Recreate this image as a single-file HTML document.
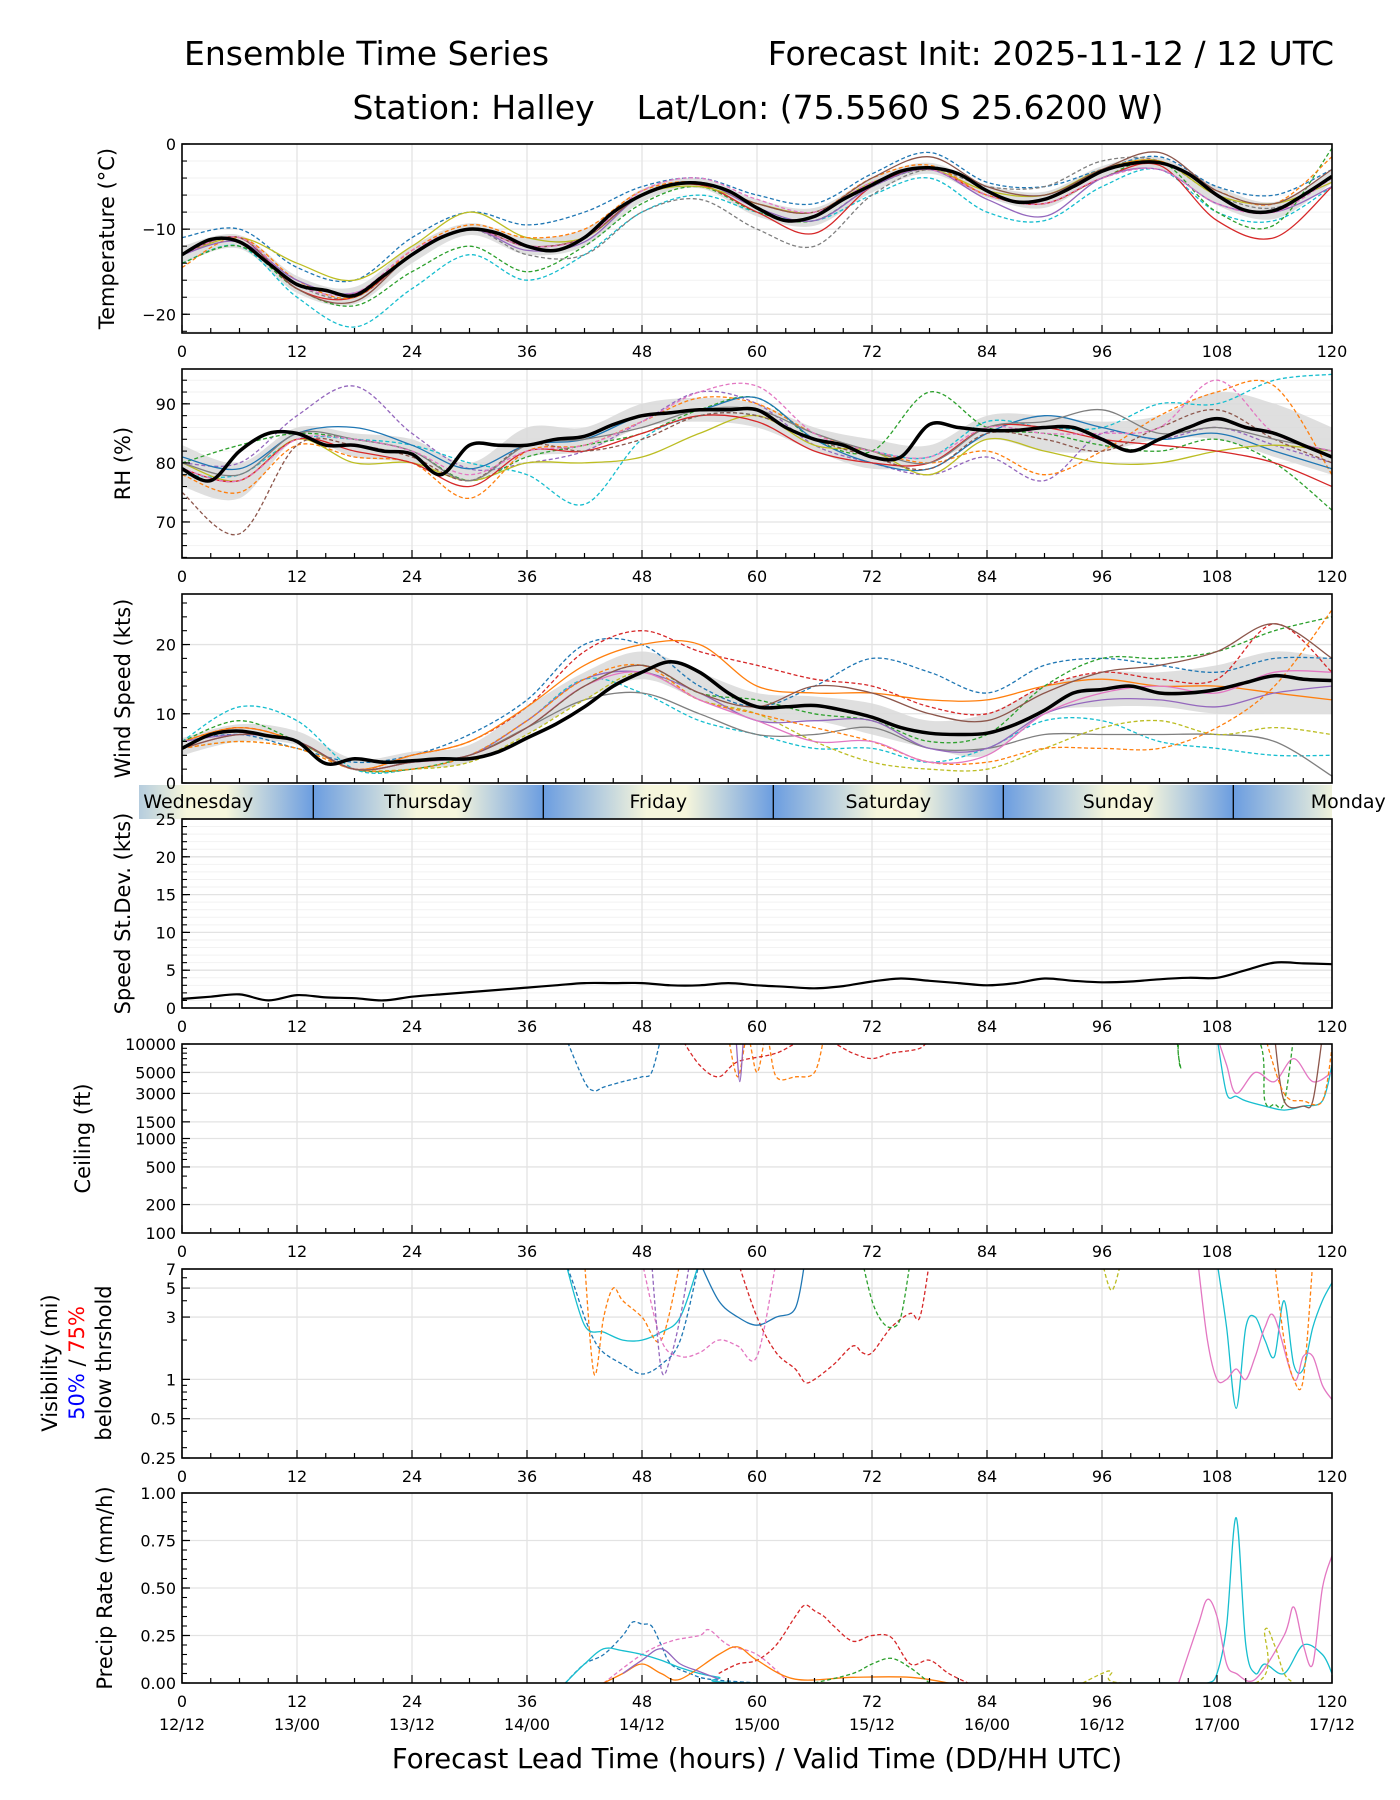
<!DOCTYPE html>
<html><head><meta charset="utf-8"><style>
html,body{margin:0;padding:0;background:#fff;}
svg{display:block;font-family:"DejaVu Sans","Liberation Sans",sans-serif;}
</style></head><body>
<svg id="chart" width="1400" height="1800" viewBox="0 0 1400 1800" xmlns="http://www.w3.org/2000/svg">
<text x="184" y="65" font-size="33">Ensemble Time Series</text>
<text x="1334" y="65" font-size="33" text-anchor="end">Forecast Init: 2025-11-12 / 12 UTC</text>
<text x="758" y="119" font-size="33" text-anchor="middle">Station: Halley&#160;&#160;&#160;&#160;Lat/Lon: (75.5560 S 25.6200 W)</text>
</svg>
<script>
// ---------- data ----------
const hours3 = [0,3,6,9,12,15,18,21,24,27,30,33,36,39,42,45,48,51,54,57,60,63,66,69,72,75,78,81,84,87,90,93,96,99,102,105,108,111,114,117,120];
const hours6 = [0,6,12,18,24,30,36,42,48,54,60,66,72,78,84,90,96,102,108,114,120];
const xTicks = [0,12,24,36,48,60,72,84,96,108,120];
const dateLabels = ["12/12","13/00","13/12","14/00","14/12","15/00","15/12","16/00","16/12","17/00","17/12"];
const dayNames = ["Wednesday","Thursday","Friday","Saturday","Sunday","Monday"];
const dayStarts = [-10.3,13.7,37.7,61.7,85.7,109.7];

const tempMean = [-13,-11.2,-11.5,-14,-16.5,-17.2,-17.8,-15.5,-13,-11,-10,-10.5,-12,-12.5,-11,-8,-6,-4.8,-4.6,-5.5,-7.5,-9,-8.5,-6.5,-4.8,-3.2,-2.8,-3.5,-5.5,-6.8,-6.5,-5,-3.2,-2.3,-2.2,-3.5,-6,-7.8,-7.8,-6,-3.8];
const tempHi = [-12,-10.7,-15.5,-16.8,-12,-9.3,-11,-10,-5.3,-4,-6.5,-7.5,-4,-2.2,-4.8,-5.6,-2.6,-1.6,-5,-6.8,-3];
const tempLo = [-14,-12.3,-17.5,-18.8,-14,-10.7,-13,-12,-6.8,-5.2,-8.5,-9.6,-5.7,-3.5,-6.3,-7.5,-4,-2.9,-7.2,-8.8,-4.6];
const tempM1 = [-11,-10,-14.5,-16,-11,-8,-9.5,-8,-5,-4,-6,-7,-3.5,-1,-4.5,-5,-3,-1.5,-5,-6,-3];
const tempM2 = [-14,-12,-18,-21.5,-17,-13,-16,-13,-8,-6,-8,-9,-6,-4,-8,-9,-5,-3,-8,-9,-5];
const tempM3 = [-14,-12,-17,-19,-15,-12,-15,-12,-7,-5,-8,-9,-5,-3,-6,-7,-4,-2,-8,-9.5,-0.5];
const tempM4 = [-13,-11,-16.5,-18,-13,-10,-13,-13,-8,-6.5,-10,-12,-6,-3,-5,-5,-2,-2,-6,-7.5,-4];
const tempM5 = [-13,-11,-17,-18,-13,-10,-12,-11,-6,-4.8,-8,-10.5,-5,-3,-6,-7,-4,-2.5,-9,-11,-5];
const tempM6 = [-13,-11,-14,-16,-12,-8,-11,-11,-6,-5,-7,-8,-4.5,-3,-5.5,-6,-3,-2,-6,-7,-4.5];
const tempM7 = [-14.5,-11,-16,-18,-12.5,-9.5,-11,-10,-5.5,-4.5,-7,-8,-4,-2.5,-6,-6.5,-3,-2,-5.5,-7,-1.5];
const tempM8 = [-13,-11.5,-16,-17.5,-13,-10,-12.5,-11.5,-6,-4.5,-7.5,-9,-5,-3,-6.5,-8.5,-4,-3,-7,-8,-5];
const tempM9 = [-13,-11,-17,-18.5,-13,-10,-12,-11,-6,-4.5,-7,-8,-4,-1.5,-5,-6,-3,-1,-5.5,-7,-3];
const tempM10 = [-13,-11,-16.5,-17.5,-12.5,-10,-12,-11,-5.5,-4,-6.5,-8,-4.5,-3,-6,-7,-4,-3,-7,-8,-4];

const rhMean = [79,77,82,85,85,83,83,82,81.5,78,83,83,83,84,84.5,86.5,88,88.5,89,89,89,86,84,83,81,81,86.5,86,85.5,85.5,86,86,84,82,84,86,87.5,86,85,83,81];
const rhHi = [83,80,86,85,84,80,86,86,90,91,90,86,84,83,88,88,87,88,92,90,86];
const rhLo = [76,74,84,81,80,77,81,82,86,87,86,82,79,80,84,82,82,84,84,81,78];
const rhM1 = [80,80,88,93,85,79,80,82,87,92,90,83,80,78,81,77,85,84,86,83,80];
const rhM2 = [78,78,84,84,83,80,78,73,84,88,88,84,82,81,87,86,86,90,90,94,95];
const rhM3 = [80,83,85,84,82,77,81,83,85,89,91,84,82,92,86,85,83,82,84,80,72];
const rhM4 = [78,75,83,81,80,74,82,83,87,91,90,85,82,80,82,78,82,88,92,93,78];
const rhM5 = [81,79,85,86,83,79,83,84,88,89,91,84,80,79,85,88,86,84,85,82,79];
const rhM6 = [80,77,84,80,80,77,80,80,81,85,88,83,82,78,84,82,80,80,82,83,82];
const rhM7 = [79,77,84,82,80,76,82,82,85,88,87,82,80,80,86,86,84,83,82,80,76];
const rhM8 = [75,68,83,83,81,77,83,82,84,88,88,84,81,79,85,84,82,86,89,84,80];
const rhM9 = [80,78,85,84,82,77,83,84,86,89,89,85,82,80,86,87,89,85,86,84,82];
const rhM10 = [79,77,84,84,82,78,82,83,87,92,93,85,82,81,86,85,85,86,94,85,82];

const windMean = [5,7,7.5,6.8,6,2.8,3.5,3,3.2,3.5,3.5,4.5,6.5,8.5,11,14,16,17.5,16,13,11,11,11.2,10.5,9.5,8,7.2,7,7.2,8.5,10.5,13,13.5,14,13,13,13.5,14.5,15.5,15,14.8];
const windHi = [6.5,8.5,7.5,3.5,4.5,5.5,11,16,19,16,13,12.5,11.5,9,10,14,16,16,17,19,18];
const windLo = [4,6,5.5,1.8,2,3,7,12,15,12,9,9,7,5,4,10,11,11,10,10,10];
const windM1 = [6,7,5,3,4,7,12,20,20,14,11,14,18,16,13,17,18,17,16,18,18];
const windM2 = [6,11,9,2,2,4,9,15,13,9,7,5,5,3,5,9,9,6,5,4,4];
const windM3 = [6,8,6,2,4,6,11,19,22,19,17,15,14,11,10,14,16,15,15,23,16];
const windM4 = [6,8,6,2,4,6,11,17,20,20,14,13,13,12,12,14,15,14,14,13,12];
const windM5 = [5,7,6,2,3,4,8,12,13,10,7,7,8,5,5,7,7,7,7,6,1];
const windM6 = [5,6,5,2,2,3,7,12,16,12,10,6,3,2,2,5,8,9,7,8,7];
const windM7 = [6,9,6,2,2,4,8,14,17,13,12,10,9,6,7,14,18,18,19,22,24];
const windM8 = [6,7,6,2,3,4,9,15,16,13,9,9,9,5,5,10,12,12,11,13,14];
const windM9 = [5,6,5,2,2,4,9,15,17,12,10,8,6,3,3,5,5,5,8,14,25];
const windM10 = [5,7,6,2,3,4,8,14,16,12,9,6,6,3,4,10,13,14,13,16,16];
const windM11 = [5,7,6,2,3,4,8,14,17,13,11,14,13,10,9,13,16,17,19,23,18];

const stdVals = [1.2,1.5,1.8,1.0,1.7,1.4,1.3,1.0,1.5,1.8,2.1,2.4,2.7,3.0,3.3,3.3,3.3,3.0,3.0,3.3,3.0,2.8,2.6,2.9,3.5,3.9,3.6,3.3,3.0,3.3,3.9,3.6,3.4,3.5,3.8,4.0,4.0,5.0,6.0,5.9,5.8];

const ceilBlueH = [40,42,43,44,46,48,49,50];
const ceilBlueV = [12000,4000,3200,3500,4000,4500,5000,12000];
const ceilOrangeH = [57,58,59,60,61,62,64,66,67];
const ceilOrangeV = [12000,4500,12000,5000,12000,4500,4500,5000,12000];
const ceilRedH = [52,54,56,58,62,66,70,72,74,77,78];
const ceilRedV = [12000,6000,4500,6500,8000,12000,8000,7000,8000,9000,12000];
const ceilPurpleH = [57.8,58.2,58.6];
const ceilPurpleV = [12000,4000,12000];
const ceilCyanH = [108,109,110,111,113,115,117,119,120];
const ceilCyanV = [12000,3000,2800,2500,2200,2000,2200,2500,6000];
const ceilPinkH = [108,109,110,112,114,116,118,120];
const ceilPinkV = [12000,6000,3000,5000,4000,7000,4000,5000];
const ceilGreenH = [103.8,104.2,104.6,112,113,114,115,116];
const ceilGreenV = [12000,5500,12000,12000,2500,2300,2400,12000];
const ceilBrownH = [114,115,117,118,119];
const ceilBrownV = [12000,2500,2200,2500,12000];
const ceilOrange2H = [113,115,117,119,120];
const ceilOrange2V = [12000,3000,2500,2500,9000];

const visBlueDH = [40,41,42,43,44,46,48,50,52,54];
const visBlueDV = [8,5,3,2,1.6,1.3,1.1,1.3,2.0,8];
const visCyanH = [40,42,44,46,48,50,52,54];
const visCyanV = [8,2.6,2.3,2.0,2.0,2.3,3,8];
const visCyan2H = [108,109,110,111,112,113,114,115,116,117,118,119,120];
const visCyan2V = [8,2.5,0.6,2.5,3,2,1.5,4,1.3,1.2,2.5,4,5.5];
const visRedH = [58,60,62,64,65,66,68,70,71,72,74,76,77,78];
const visRedV = [8,3,1.6,1.2,0.95,1.0,1.3,1.8,1.6,1.6,2.5,3.2,3.0,8];
const visPinkH = [106,107,108,109,110,111,112,113,114,116,117,118,119,120];
const visPinkV = [8,2,1,1,1.2,1,1.5,2.5,3,1.0,1.5,1.5,0.9,0.7];
const visOrangeH = [42,43,44,45,46,48,50,52];
const visOrangeV = [8,1.1,3,5,4,3,2,8];
const visOrange2H = [114,115,116,117,118];
const visOrange2V = [8,2,1,1,8];
const visGreenH = [71,72,73,74,75,76];
const visGreenV = [8,4,2.8,2.5,3,8];
const visBlueH = [54,56,58,60,62,64,65];
const visBlueV = [8,4,3,2.6,3,3.5,8];
const visPinkDH = [48,50,52,54,56,58,60,62];
const visPinkDV = [8,2,1.5,1.6,2,1.8,1.5,8];
const visPurpleH = [49,50,51,52,53];
const visPurpleV = [8,1.2,1.5,3,8];
const visOliveH = [96,97,98];
const visOliveV = [8,4.8,8];

const prBlueH = [40,42,44,46,47,48,49,50,51,53,55,60];
const prBlueV = [0,0.1,0.15,0.25,0.32,0.31,0.3,0.2,0.1,0.05,0.02,0];
const prRedH = [56,58,60,62,64,65,66,67,68,70,72,74,76,78,80,82];
const prRedV = [0.05,0.1,0.12,0.2,0.35,0.41,0.38,0.35,0.3,0.22,0.25,0.24,0.1,0.12,0.05,0];
const prPinkDH = [44,48,51,54,55,57,60,63];
const prPinkDV = [0,0.15,0.22,0.25,0.28,0.2,0.15,0.02];
const prCyanH = [40,42,44,46,48,50,52,54,56,60,105,107,108,109,110,111,112,113,115,117,119,120];
const prCyanV = [0,0.1,0.18,0.17,0.15,0.12,0.08,0.05,0.03,0,0,0,0.05,0.3,0.87,0.2,0.05,0.1,0.05,0.2,0.15,0.05];
const prPinkH = [104,106,107,108,109,110,112,115,116,117,118,119,120];
const prPinkV = [0,0.3,0.44,0.35,0.1,0.05,0.02,0.25,0.4,0.2,0.1,0.5,0.67];
const prOrangeH = [44,46,48,50,52,56,58,60,64,70,76,80];
const prOrangeV = [0,0.05,0.1,0.05,0.02,0.15,0.19,0.12,0.02,0.03,0.03,0];
const prGreenH = [66,70,72,74,76,78];
const prGreenV = [0,0.05,0.1,0.13,0.08,0];
const prPurpleH = [46,48,50,52,54,56];
const prPurpleV = [0.05,0.12,0.18,0.1,0.06,0.02];
const prOliveH = [94,96,97,98,112,113,114,115,116];
const prOliveV = [0,0.05,0.06,0,0,0.28,0.2,0.05,0];

// ---------- drawing ----------
const NS = "http://www.w3.org/2000/svg";
const svg = document.getElementById("chart");
const X0 = 182, X1 = 1332;
const C = {blue:"#1f77b4",orange:"#ff7f0e",green:"#2ca02c",red:"#d62728",purple:"#9467bd",brown:"#8c564b",pink:"#e377c2",gray:"#7f7f7f",olive:"#bcbd22",cyan:"#17becf"};
const TF = 16;
const LF = 21;
function xs(h){ return X0 + (h/120)*(X1-X0); }
function mk(tag, attrs, parent){ const e=document.createElementNS(NS,tag); for(const k in attrs) e.setAttribute(k,attrs[k]); (parent||svg).appendChild(e); return e; }
function smoothPath(pts){
  if(pts.length<2) return "";
  let d = "M"+pts[0][0].toFixed(1)+","+pts[0][1].toFixed(1);
  for(let i=0;i<pts.length-1;i++){
    const p0=pts[i-1]||pts[i], p1=pts[i], p2=pts[i+1], p3=pts[i+2]||p2;
    const c1=[p1[0]+(p2[0]-p0[0])/6, p1[1]+(p2[1]-p0[1])/6];
    const c2=[p2[0]-(p3[0]-p1[0])/6, p2[1]-(p3[1]-p1[1])/6];
    d += "C"+c1[0].toFixed(1)+","+c1[1].toFixed(1)+" "+c2[0].toFixed(1)+","+c2[1].toFixed(1)+" "+p2[0].toFixed(1)+","+p2[1].toFixed(1);
  }
  return d;
}
let clipId=0;
function panel(p){
  const g = mk("g",{});
  
  
  const ys = p.log ? (v)=> p.top + (Math.log10(p.ymax)-Math.log10(v))/(Math.log10(p.ymax)-Math.log10(p.ymin))*(p.bot-p.top)
                   : (v)=> p.top + (p.ymax-v)/(p.ymax-p.ymin)*(p.bot-p.top);
  (p.minorGrid||[]).forEach(v=>{ const y=ys(v); mk("line",{x1:X0,x2:X1,y1:y,y2:y,stroke:"#f2f2f2","stroke-width":1},g); });
  xTicks.forEach(h=>{ mk("line",{x1:xs(h),x2:xs(h),y1:p.top,y2:p.bot,stroke:"#e3e3e3","stroke-width":1.3},g); });
  p.yTicks.forEach(v=>{ const y=ys(v); mk("line",{x1:X0,x2:X1,y1:y,y2:y,stroke:"#e3e3e3","stroke-width":1.3},g); });
  const id="clip"+(clipId++);
  const cp = mk("clipPath",{id:id},g); mk("rect",{x:X0,y:p.top,width:X1-X0,height:p.bot-p.top},cp);
  const data = mk("g",{"clip-path":"url(#"+id+")"},g);
  if(p.band){
    const up = hours6.map((h,i)=>[xs(h),ys(p.band[1][i])]);
    const dn = hours6.map((h,i)=>[xs(h),ys(p.band[0][i])]).reverse();
    const band = mk("path",{d:smoothPath(up)+" L"+smoothPath(dn).slice(1)+" Z",fill:"#d9d9d9",opacity:0.85},data);
    
    
  }
  (p.members||[]).forEach((m)=>{
    const hh = m.h || hours6;
    const pts = hh.map((h,i)=>[xs(h),ys(m.v[i])]);
    const el = mk("path",{d:smoothPath(pts),fill:"none",stroke:m.c,"stroke-width":1.3,"stroke-dasharray":m.d?"4,2.5":"none"},data);
    
    
  });
  if(p.mean){
    const pts = hours3.map((h,i)=>[xs(h),ys(p.mean[i])]);
    const el = mk("path",{d:smoothPath(pts),fill:"none",stroke:"#000","stroke-width":p.meanW||3.5,"stroke-linejoin":"round"},data);
    
    
  }
  for(let h=0;h<=120;h+=3){
    const major = h%12===0; const L = major?8:5;
    mk("line",{x1:xs(h),x2:xs(h),y1:p.bot,y2:p.bot-L,stroke:"#000","stroke-width":1.2},g);
  }
  (p.minorTicks||[]).forEach(v=>{ const y=ys(v); mk("line",{x1:X0,x2:X0+5,y1:y,y2:y,stroke:"#000","stroke-width":1.1},g); });
  p.yTicks.forEach((v,i)=>{
    const y=ys(v);
    mk("line",{x1:X0,x2:X0+8,y1:y,y2:y,stroke:"#000","stroke-width":1.2},g);
    const t=mk("text",{x:X0-6,y:y+6,"font-size":TF,"text-anchor":"end"},g);
    t.textContent = p.yLabels[i];
    
    
  });
  if(!p.noX){
    xTicks.forEach(h=>{
      const t=mk("text",{x:xs(h),y:p.bot+24,"font-size":TF,"text-anchor":"middle"},g);
      t.textContent = String(h);
      
      
    });
  }
  mk("rect",{x:X0,y:p.top,width:X1-X0,height:p.bot-p.top,fill:"none",stroke:"#000","stroke-width":1.6},g);
  if(p.label){
    const cy=(p.top+p.bot)/2;
    const t=mk("text",{x:0,y:0,"font-size":LF,"text-anchor":"middle",transform:"translate("+p.labelX+","+cy+") rotate(-90)"},g);
    t.textContent=p.label;
    
    
  }
  return {g,ys};
}
function range(a,b,s){ const r=[]; for(let v=a;v<=b+1e-9;v+=s) r.push(+v.toFixed(3)); return r; }

// day bar
(function(){
  const top=785, bot=819, L=139, R=1332;
  const defs=mk("defs",{});
  const g=mk("g",{});
  
  
  const cp=mk("clipPath",{id:"dayclip"},defs); mk("rect",{x:L,y:top,width:R-L,height:bot-top},cp);
  const inner=mk("g",{"clip-path":"url(#dayclip)"},g);
  dayStarts.forEach((s,i)=>{
    const x0=xs(s), x1=xs(s+24);
    const gr=mk("linearGradient",{id:"dg"+i,x1:0,x2:1,y1:0,y2:0},defs);
    mk("stop",{offset:"0","stop-color":"#6b9de0"},gr);
    mk("stop",{offset:"0.45","stop-color":"#f6f6dc"},gr);
    mk("stop",{offset:"0.62","stop-color":"#f6f6dc"},gr);
    mk("stop",{offset:"1","stop-color":"#6b9de0"},gr);
    mk("rect",{x:x0,y:top,width:x1-x0,height:bot-top,fill:"url(#dg"+i+")"},inner);
    if(i>0) mk("line",{x1:x0,x2:x0,y1:top,y2:bot,stroke:"#000","stroke-width":1.3},inner);
  });
  dayStarts.forEach((s,i)=>{
    const t=mk("text",{x:xs(s+12),y:top+23,"font-size":19,"text-anchor":"middle"},g);
    t.textContent=dayNames[i];
    
    
  });
})();

panel({name:"temperature-panel",top:144,bot:333,ymin:-22.2,ymax:0,yTicks:[0,-10,-20],yLabels:["0","\u221210","\u221220"],
  minorTicks:range(-22,0,2),minorGrid:range(-22,0,2),label:"Temperature (\u00B0C)",labelX:114,
  band:[tempLo,tempHi],mean:tempMean,
  members:[{v:tempM1,c:C.blue,d:1},{v:tempM2,c:C.cyan,d:1},{v:tempM3,c:C.green,d:1},{v:tempM4,c:C.gray,d:1},{v:tempM5,c:C.red},{v:tempM6,c:C.olive},{v:tempM7,c:C.orange,d:1},{v:tempM8,c:C.purple},{v:tempM9,c:C.brown},{v:tempM10,c:C.pink,d:1}]});

panel({name:"rh-panel",top:369,bot:558,ymin:63.9,ymax:95.9,yTicks:[70,80,90],yLabels:["70","80","90"],
  minorTicks:range(64,94,2),minorGrid:range(64,94,2),label:"RH (%)",labelX:130,
  band:[rhLo,rhHi],mean:rhMean,
  members:[{v:rhM1,c:C.purple,d:1},{v:rhM2,c:C.cyan,d:1},{v:rhM3,c:C.green,d:1},{v:rhM4,c:C.orange,d:1},{v:rhM5,c:C.blue},{v:rhM6,c:C.olive},{v:rhM7,c:C.red},{v:rhM8,c:C.brown,d:1},{v:rhM9,c:C.gray},{v:rhM10,c:C.pink,d:1}]});

panel({name:"wind-speed-panel",top:594,bot:783,ymin:0,ymax:27.3,yTicks:[0,10,20],yLabels:["0","10","20"],noX:true,
  minorTicks:range(0,26,2),label:"Wind Speed (kts)",labelX:130,
  band:[windLo,windHi],mean:windMean,
  members:[{v:windM1,c:C.blue,d:1},{v:windM2,c:C.cyan,d:1},{v:windM3,c:C.red,d:1},{v:windM4,c:C.orange},{v:windM5,c:C.gray},{v:windM6,c:C.olive,d:1},{v:windM7,c:C.green,d:1},{v:windM8,c:C.purple},{v:windM9,c:C.orange,d:1},{v:windM10,c:C.pink},{v:windM11,c:C.brown}]});

panel({name:"speed-stdev-panel",top:819,bot:1008,ymin:0,ymax:25,yTicks:[0,5,10,15,20,25],yLabels:["0","5","10","15","20","25"],
  minorTicks:range(0,25,1),minorGrid:range(0,25,1),label:"Speed St.Dev. (kts)",labelX:130,mean:stdVals,meanW:2.2});

panel({name:"ceiling-panel",top:1044,bot:1233,ymin:100,ymax:10000,log:true,yTicks:[100,200,500,1000,1500,3000,5000,10000],
  yLabels:["100","200","500","1000","1500","3000","5000","10000"],
  minorTicks:[300,400,600,700,800,900,2000,4000,6000,7000,8000,9000],label:"Ceiling (ft)",labelX:90,
  members:[{h:ceilBlueH,v:ceilBlueV,c:C.blue,d:1},{h:ceilOrangeH,v:ceilOrangeV,c:C.orange,d:1},{h:ceilRedH,v:ceilRedV,c:C.red,d:1},{h:ceilPurpleH,v:ceilPurpleV,c:C.purple},{h:ceilCyanH,v:ceilCyanV,c:C.cyan},{h:ceilPinkH,v:ceilPinkV,c:C.pink},{h:ceilGreenH,v:ceilGreenV,c:C.green,d:1},{h:ceilBrownH,v:ceilBrownV,c:C.brown},{h:ceilOrange2H,v:ceilOrange2V,c:C.orange,d:1}]});

panel({name:"visibility-panel",top:1269,bot:1458,ymin:0.25,ymax:7,log:true,yTicks:[0.25,0.5,1,3,5,7],yLabels:["0.25","0.5","1","3","5","7"],
  minorTicks:[0.3,0.4,0.6,0.7,0.8,0.9,2,4,6],
  members:[{h:visBlueDH,v:visBlueDV,c:C.blue,d:1},{h:visCyanH,v:visCyanV,c:C.cyan},{h:visCyan2H,v:visCyan2V,c:C.cyan},{h:visRedH,v:visRedV,c:C.red,d:1},{h:visPinkH,v:visPinkV,c:C.pink},{h:visOrangeH,v:visOrangeV,c:C.orange,d:1},{h:visOrange2H,v:visOrange2V,c:C.orange,d:1},{h:visGreenH,v:visGreenV,c:C.green,d:1},{h:visBlueH,v:visBlueV,c:C.blue},{h:visPinkDH,v:visPinkDV,c:C.pink,d:1},{h:visPurpleH,v:visPurpleV,c:C.purple,d:1},{h:visOliveH,v:visOliveV,c:C.olive,d:1}]});

panel({name:"precip-panel",top:1493,bot:1683,ymin:0,ymax:1,yTicks:[0,0.25,0.5,0.75,1],yLabels:["0.00","0.25","0.50","0.75","1.00"],
  minorTicks:range(0,1,0.05),label:"Precip Rate (mm/h)",labelX:112,
  members:[{h:prBlueH,v:prBlueV,c:C.blue,d:1},{h:prRedH,v:prRedV,c:C.red,d:1},{h:prPinkDH,v:prPinkDV,c:C.pink,d:1},{h:prCyanH,v:prCyanV,c:C.cyan},{h:prPinkH,v:prPinkV,c:C.pink},{h:prOrangeH,v:prOrangeV,c:C.orange},{h:prGreenH,v:prGreenV,c:C.green,d:1},{h:prPurpleH,v:prPurpleV,c:C.purple},{h:prOliveH,v:prOliveV,c:C.olive,d:1}]});

(function(){
  const cy=1363;
  const t1=mk("text",{x:0,y:0,"font-size":LF,"text-anchor":"middle",transform:"translate(57,"+cy+") rotate(-90)"});
  t1.textContent="Visibility (mi)";
  
  
  const t2=mk("text",{x:0,y:0,"font-size":LF,"text-anchor":"middle",transform:"translate(84,"+cy+") rotate(-90)"});
  
  
  const a=mk("tspan",{fill:"#0000ff"},t2); a.textContent="50%";
  const b=mk("tspan",{fill:"#000"},t2); b.textContent=" / ";
  const c=mk("tspan",{fill:"#ff0000"},t2); c.textContent="75%";
  const t3=mk("text",{x:0,y:0,"font-size":LF,"text-anchor":"middle",transform:"translate(111,"+cy+") rotate(-90)"});
  t3.textContent="below thrshold";
  
  
})();

xTicks.forEach((h,i)=>{
  const t=mk("text",{x:xs(h),y:1730,"font-size":TF,"text-anchor":"middle"});
  t.textContent=dateLabels[i];
  
  
});
(function(){
  const t=mk("text",{x:757,y:1768,"font-size":27.5,"text-anchor":"middle"});
  t.textContent="Forecast Lead Time (hours) / Valid Time (DD/HH UTC)";
  
  
})();
</script>
</body></html>
